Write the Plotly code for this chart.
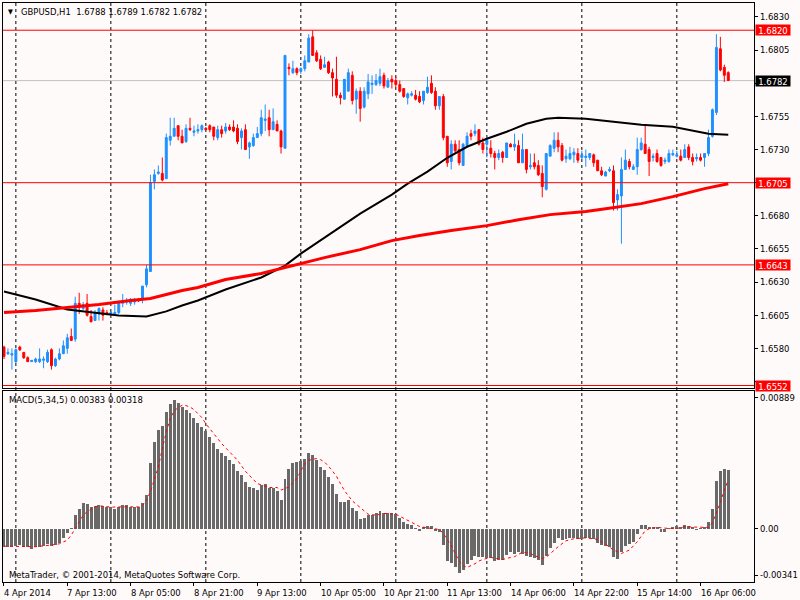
import plotly.graph_objects as go

BG = '#FFFAFA'
BULL = '#1E90FF'
BEAR = '#FF0000'
FONT = 'DejaVu Sans Condensed, DejaVu Sans, sans-serif'

# H1 bars, 4 Apr 21:00 .. 16 Apr 13:00 (bar index on the x axis)
opens = [
    1.6581, 1.6576, 1.6575, 1.6570, 1.6581, 1.6577, 1.6573, 1.6570, 1.6570, 1.6570,
    1.6571, 1.6570, 1.6579, 1.6567, 1.6572, 1.6576, 1.6580, 1.6589, 1.6587, 1.6614,
    1.6610, 1.6614, 1.6604, 1.6601, 1.6606, 1.6609, 1.6607, 1.6606, 1.6606, 1.6607,
    1.6614, 1.6615, 1.6614, 1.6615, 1.6617, 1.6617, 1.6628, 1.6638, 1.6706, 1.6712,
    1.6712, 1.6708, 1.6737, 1.6740, 1.6748, 1.6740, 1.6736, 1.6746, 1.6743, 1.6744,
    1.6745, 1.6746, 1.6748, 1.6747, 1.6739, 1.6745, 1.6744, 1.6747, 1.6747, 1.6746,
    1.6739, 1.6745, 1.6732, 1.6733, 1.6739, 1.6742, 1.6752, 1.6754, 1.6745, 1.6749,
    1.6744, 1.6731, 1.6792, 1.6788, 1.6791, 1.6789, 1.6791, 1.6796, 1.6815, 1.6803,
    1.6798, 1.6792, 1.6796, 1.6788, 1.6783, 1.6771, 1.6768, 1.6774, 1.6786, 1.6768,
    1.6774, 1.6762, 1.6772, 1.6779, 1.6779, 1.6780, 1.6786, 1.6777, 1.6783, 1.6782,
    1.6779, 1.6776, 1.6769, 1.6771, 1.6771, 1.6770, 1.6767, 1.6773, 1.6780, 1.6774,
    1.6763, 1.6770, 1.6740, 1.6721, 1.6734, 1.6730, 1.6718, 1.6733, 1.6742, 1.6742,
    1.6745, 1.6735, 1.6734, 1.6731, 1.6727, 1.6724, 1.6728, 1.6724, 1.6734, 1.6732,
    1.6733, 1.6720, 1.6730, 1.6717, 1.6720, 1.6718, 1.6712, 1.6700, 1.6725, 1.6731,
    1.6737, 1.6733, 1.6723, 1.6723, 1.6726, 1.6727, 1.6724, 1.6724, 1.6724, 1.6726,
    1.6722, 1.6714, 1.6710, 1.6714, 1.6714, 1.6692, 1.6695, 1.6715, 1.6721, 1.6715,
    1.6717, 1.6730, 1.6734, 1.6730, 1.6724, 1.6727, 1.6724, 1.6721, 1.6721, 1.6726,
    1.6725, 1.6725, 1.6724, 1.6732, 1.6724, 1.6723, 1.6724, 1.6724, 1.6727, 1.6740,
    1.6758, 1.6806, 1.6792, 1.6788,
]
highs = [
    1.6582, 1.6580, 1.6580, 1.6580, 1.6582, 1.6577, 1.6574, 1.6571, 1.6573, 1.6580,
    1.6574, 1.6579, 1.6580, 1.6573, 1.6580, 1.6586, 1.6591, 1.6595, 1.6619, 1.6622,
    1.6615, 1.6621, 1.6609, 1.6609, 1.6611, 1.6611, 1.6609, 1.6608, 1.6613, 1.6616,
    1.6621, 1.6618, 1.6618, 1.6618, 1.6618, 1.6627, 1.6643, 1.6711, 1.6715, 1.6718,
    1.6724, 1.6742, 1.6754, 1.6754, 1.6748, 1.6745, 1.6749, 1.6754, 1.6748, 1.6749,
    1.6749, 1.6747, 1.6749, 1.6747, 1.6748, 1.6748, 1.6750, 1.6749, 1.6752, 1.6749,
    1.6746, 1.6749, 1.6736, 1.6742, 1.6747, 1.6760, 1.6764, 1.6760, 1.6761, 1.6752,
    1.6745, 1.6801, 1.6795, 1.6797, 1.6792, 1.6792, 1.6801, 1.6817, 1.6820, 1.6805,
    1.6801, 1.6800, 1.6797, 1.6791, 1.6800, 1.6773, 1.6783, 1.6791, 1.6789, 1.6776,
    1.6777, 1.6777, 1.6787, 1.6786, 1.6787, 1.6791, 1.6788, 1.6784, 1.6786, 1.6785,
    1.6782, 1.6776, 1.6773, 1.6774, 1.6775, 1.6774, 1.6774, 1.6785, 1.6786, 1.6777,
    1.6770, 1.6772, 1.6740, 1.6737, 1.6737, 1.6737, 1.6735, 1.6743, 1.6745, 1.6749,
    1.6745, 1.6739, 1.6740, 1.6737, 1.6729, 1.6730, 1.6729, 1.6735, 1.6735, 1.6742,
    1.6737, 1.6742, 1.6730, 1.6727, 1.6727, 1.6722, 1.6718, 1.6727, 1.6734, 1.6743,
    1.6743, 1.6735, 1.6730, 1.6732, 1.6731, 1.6731, 1.6729, 1.6730, 1.6727, 1.6727,
    1.6722, 1.6717, 1.6714, 1.6717, 1.6718, 1.6700, 1.6724, 1.6730, 1.6723, 1.6719,
    1.6739, 1.6739, 1.6748, 1.6732, 1.6727, 1.6730, 1.6724, 1.6724, 1.6730, 1.6730,
    1.6729, 1.6730, 1.6734, 1.6734, 1.6727, 1.6727, 1.6727, 1.6727, 1.6745, 1.6761,
    1.6817, 1.6815, 1.6794, 1.6789,
]
lows = [
    1.6572, 1.6575, 1.6564, 1.6569, 1.6578, 1.6572, 1.6570, 1.6570, 1.6569, 1.6569,
    1.6565, 1.6569, 1.6564, 1.6566, 1.6571, 1.6576, 1.6576, 1.6586, 1.6585, 1.6606,
    1.6609, 1.6604, 1.6600, 1.6601, 1.6601, 1.6601, 1.6605, 1.6605, 1.6606, 1.6606,
    1.6611, 1.6613, 1.6612, 1.6613, 1.6615, 1.6614, 1.6626, 1.6638, 1.6700, 1.6711,
    1.6706, 1.6708, 1.6733, 1.6740, 1.6737, 1.6735, 1.6735, 1.6744, 1.6740, 1.6742,
    1.6743, 1.6745, 1.6743, 1.6737, 1.6737, 1.6739, 1.6742, 1.6744, 1.6743, 1.6734,
    1.6730, 1.6730, 1.6723, 1.6732, 1.6739, 1.6740, 1.6744, 1.6740, 1.6745, 1.6744,
    1.6727, 1.6731, 1.6786, 1.6787, 1.6786, 1.6787, 1.6789, 1.6796, 1.6801, 1.6796,
    1.6790, 1.6792, 1.6787, 1.6770, 1.6769, 1.6764, 1.6768, 1.6774, 1.6764, 1.6757,
    1.6751, 1.6761, 1.6768, 1.6772, 1.6778, 1.6778, 1.6776, 1.6777, 1.6776, 1.6777,
    1.6773, 1.6769, 1.6764, 1.6770, 1.6767, 1.6765, 1.6764, 1.6772, 1.6772, 1.6760,
    1.6760, 1.6737, 1.6717, 1.6715, 1.6727, 1.6718, 1.6718, 1.6732, 1.6737, 1.6740,
    1.6733, 1.6727, 1.6724, 1.6724, 1.6715, 1.6722, 1.6720, 1.6724, 1.6732, 1.6729,
    1.6720, 1.6720, 1.6712, 1.6715, 1.6715, 1.6710, 1.6694, 1.6699, 1.6725, 1.6728,
    1.6728, 1.6721, 1.6720, 1.6722, 1.6720, 1.6720, 1.6722, 1.6717, 1.6722, 1.6717,
    1.6714, 1.6710, 1.6710, 1.6713, 1.6684, 1.6684, 1.6659, 1.6715, 1.6715, 1.6715,
    1.6711, 1.6729, 1.6727, 1.6710, 1.6721, 1.6720, 1.6717, 1.6719, 1.6720, 1.6725,
    1.6724, 1.6721, 1.6724, 1.6722, 1.6718, 1.6721, 1.6721, 1.6717, 1.6725, 1.6739,
    1.6756, 1.6789, 1.6781, 1.6782,
]
closes = [
    1.6574, 1.6577, 1.6576, 1.6579, 1.6579, 1.6573, 1.6570, 1.6571, 1.6572, 1.6572,
    1.6572, 1.6577, 1.6567, 1.6572, 1.6576, 1.6582, 1.6588, 1.6586, 1.6614, 1.6611,
    1.6613, 1.6605, 1.6600, 1.6607, 1.6610, 1.6605, 1.6606, 1.6607, 1.6607, 1.6615,
    1.6616, 1.6616, 1.6617, 1.6617, 1.6616, 1.6627, 1.6640, 1.6705, 1.6711, 1.6713,
    1.6707, 1.6739, 1.6740, 1.6746, 1.6740, 1.6735, 1.6746, 1.6745, 1.6744, 1.6745,
    1.6748, 1.6745, 1.6745, 1.6740, 1.6745, 1.6742, 1.6747, 1.6745, 1.6744, 1.6736,
    1.6744, 1.6730, 1.6735, 1.6739, 1.6742, 1.6754, 1.6753, 1.6745, 1.6751, 1.6744,
    1.6732, 1.6801, 1.6791, 1.6791, 1.6788, 1.6791, 1.6797, 1.6814, 1.6801, 1.6797,
    1.6791, 1.6794, 1.6788, 1.6784, 1.6771, 1.6769, 1.6783, 1.6788, 1.6767, 1.6774,
    1.6761, 1.6774, 1.6781, 1.6780, 1.6782, 1.6785, 1.6778, 1.6782, 1.6781, 1.6779,
    1.6774, 1.6770, 1.6772, 1.6772, 1.6768, 1.6766, 1.6774, 1.6777, 1.6773, 1.6763,
    1.6770, 1.6739, 1.6720, 1.6734, 1.6729, 1.6720, 1.6734, 1.6740, 1.6740, 1.6744,
    1.6734, 1.6730, 1.6737, 1.6727, 1.6724, 1.6727, 1.6724, 1.6735, 1.6732, 1.6734,
    1.6720, 1.6730, 1.6715, 1.6718, 1.6717, 1.6711, 1.6702, 1.6727, 1.6733, 1.6737,
    1.6732, 1.6722, 1.6725, 1.6727, 1.6728, 1.6722, 1.6726, 1.6725, 1.6727, 1.6720,
    1.6714, 1.6711, 1.6713, 1.6715, 1.6690, 1.6696, 1.6715, 1.6722, 1.6717, 1.6717,
    1.6730, 1.6735, 1.6727, 1.6721, 1.6725, 1.6721, 1.6718, 1.6722, 1.6727, 1.6727,
    1.6726, 1.6722, 1.6730, 1.6724, 1.6721, 1.6724, 1.6722, 1.6727, 1.6739, 1.6760,
    1.6807, 1.6790, 1.6786, 1.6782,
]
bars = list(range(len(closes)))

# moving averages at these bar indices
ma_fast_idx = [0, 8, 16, 24, 29, 36, 41, 45, 49, 56, 65, 71, 75, 81, 90, 98, 102, 107, 112,
               117, 122, 127, 132, 137, 140, 147, 152, 161, 169, 174, 178, 183]
ma_fast = [1.66229, 1.66169, 1.66094, 1.66064, 1.66049, 1.66041, 1.66079, 1.66124, 1.66161,
           1.66244, 1.66335, 1.66425, 1.66515, 1.66636, 1.66817, 1.66960, 1.67043, 1.67133,
           1.67238, 1.67321, 1.67381, 1.67434, 1.67494, 1.67532, 1.67539, 1.67532, 1.67517,
           1.67487, 1.67472, 1.67442, 1.67419, 1.67411]
ma_slow_idx = [0, 8, 16, 24, 32, 37, 41, 45, 49, 56, 65, 73, 81, 90, 98, 105, 113, 122, 130,
               138, 147, 152, 161, 169, 177, 183]
ma_slow = [1.66071, 1.66086, 1.66108, 1.66131, 1.66161, 1.66176, 1.66206, 1.66236, 1.66259,
           1.66320, 1.66365, 1.66425, 1.66485, 1.66545, 1.66613, 1.66651, 1.66689, 1.66726,
           1.66771, 1.66809, 1.66832, 1.66854, 1.66892, 1.66945, 1.67005, 1.67042]

# MACD(5,34,5) main histogram, one value per bar
macd = [
    -0.00121, -0.00121, -0.00117, -0.00113, -0.00108, -0.00117, -0.00121, -0.00130, -0.00121, -0.00121,
    -0.00113, -0.00100, -0.00113, -0.00106, -0.00095, -0.00063, -0.00026, 0.00004, 0.00089, 0.00132,
    0.00165, 0.00161, 0.00143, 0.00148, 0.00154, 0.00148, 0.00139, 0.00139, 0.00130, 0.00139,
    0.00152, 0.00154, 0.00143, 0.00143, 0.00143, 0.00165, 0.00219, 0.00430, 0.00566, 0.00646,
    0.00668, 0.00759, 0.00816, 0.00837, 0.00820, 0.00794, 0.00777, 0.00755, 0.00725, 0.00690,
    0.00664, 0.00638, 0.00599, 0.00560, 0.00523, 0.00495, 0.00473, 0.00451, 0.00421, 0.00377,
    0.00349, 0.00306, 0.00273, 0.00265, 0.00255, 0.00284, 0.00291, 0.00269, 0.00267, 0.00247,
    0.00187, 0.00323, 0.00388, 0.00430, 0.00436, 0.00443, 0.00458, 0.00492, 0.00479, 0.00451,
    0.00403, 0.00382, 0.00338, 0.00291, 0.00226, 0.00174, 0.00174, 0.00187, 0.00137, 0.00115,
    0.00063, 0.00072, 0.00089, 0.00093, 0.00100, 0.00115, 0.00100, 0.00100, 0.00100, 0.00095,
    0.00072, 0.00043, 0.00030, 0.00024, 0.00007, -0.00013, 0.00013, 0.00017, 0.00017, -0.00013,
    -0.00020, -0.00106, -0.00208, -0.00226, -0.00252, -0.00291, -0.00269, -0.00230, -0.00204, -0.00178,
    -0.00182, -0.00187, -0.00193, -0.00193, -0.00208, -0.00204, -0.00202, -0.00171, -0.00150, -0.00165,
    -0.00154, -0.00165, -0.00178, -0.00182, -0.00193, -0.00204, -0.00236, -0.00178, -0.00128, -0.00091,
    -0.00063, -0.00074, -0.00069, -0.00063, -0.00063, -0.00069, -0.00069, -0.00063, -0.00063, -0.00069,
    -0.00095, -0.00106, -0.00113, -0.00117, -0.00182, -0.00200, -0.00150, -0.00113, -0.00100, -0.00085,
    -0.00035, 0.00022, 0.00024, 0.00013, 0.00013, 0.00009, -0.00020, -0.00020, 0.00007, 0.00013,
    0.00020, 0.00013, 0.00024, 0.00017, 0.00009, -0.00009, 0.00007, 0.00009, 0.00043, 0.00132,
    0.00312, 0.00375, 0.00393, 0.00383,
]
signal_idx = [0, 8, 12, 14, 16, 17, 18, 19, 20, 21, 23, 24, 27, 30, 34, 35, 36, 37, 38, 39,
              40, 41, 42, 43, 44, 45, 46, 47, 48, 49, 50, 51, 53, 55, 57, 59, 61, 63, 64, 67,
              69, 70, 72, 74, 75, 76, 77, 79, 80, 81, 82, 84, 85, 86, 88, 90, 92, 94, 96, 99,
              101, 103, 105, 108, 110, 111, 112, 113, 114, 115, 116, 117, 118, 119, 120, 121, 123, 125,
              126, 128, 129, 131, 133, 134, 136, 137, 138, 140, 142, 144, 147, 150, 152, 154, 156, 158,
              160, 161, 162, 163, 165, 168, 170, 172, 176, 178, 179, 180, 181, 182, 183]
signal = [-0.00113, -0.00117, -0.00106, -0.00098, -0.00074, -0.00041, 0.00002, 0.00046, 0.00089, 0.00111,
          0.00143, 0.00150, 0.00141, 0.00143, 0.00143, 0.00150, 0.00187, 0.00241, 0.00328, 0.00403,
          0.00523, 0.00631, 0.00718, 0.00768, 0.00790, 0.00805, 0.00803, 0.00794, 0.00777, 0.00751,
          0.00725, 0.00685, 0.00620, 0.00555, 0.00501, 0.00447, 0.00375, 0.00317, 0.00295, 0.00269,
          0.00269, 0.00252, 0.00273, 0.00328, 0.00380, 0.00425, 0.00447, 0.00458, 0.00450, 0.00435,
          0.00408, 0.00343, 0.00295, 0.00250, 0.00182, 0.00138, 0.00095, 0.00089, 0.00100, 0.00095,
          0.00067, 0.00039, 0.00015, 0.00002, -0.00004, -0.00030, -0.00069, -0.00110, -0.00161, -0.00210,
          -0.00240, -0.00252, -0.00240, -0.00228, -0.00210, -0.00200, -0.00187, -0.00193, -0.00200, -0.00187,
          -0.00182, -0.00152, -0.00161, -0.00175, -0.00193, -0.00185, -0.00161, -0.00117, -0.00078, -0.00065,
          -0.00059, -0.00069, -0.00100, -0.00139, -0.00161, -0.00139, -0.00085, -0.00050, -0.00013, 0.00000,
          0.00009, 0.00002, 0.00002, 0.00013, 0.00009, 0.00009, 0.00040, 0.00100, 0.00170, 0.00252, 0.00318]

# price levels drawn across the main pane
levels = [1.6820, 1.6705, 1.6643, 1.6552]
bid = 1.6782

# price scale ticks; the ones hidden under level labels keep only their tick mark
price_ticks = [1.6830, 1.6805, 1.6780, 1.6755, 1.6730, 1.6705, 1.6680, 1.6655, 1.6630, 1.6605, 1.6580, 1.6555]
price_text = ['1.6830', '1.6805', '', '1.6755', '1.6730', '', '1.6680', '1.6655', '1.6630', '1.6605', '1.6580', '']

# day separators (first bar of each day) and time labels every 16 bars
day_starts = [3, 27, 51, 75, 99, 122, 146, 170]
tick_idx = [0, 16, 32, 48, 64, 80, 96, 112, 128, 144, 160, 176]
tick_text = ['4 Apr 2014', '7 Apr 13:00', '8 Apr 05:00', '8 Apr 21:00', '9 Apr 13:00',
             '10 Apr 05:00', '10 Apr 21:00', '11 Apr 13:00', '14 Apr 06:00', '14 Apr 22:00',
             '15 Apr 14:00', '16 Apr 06:00']

fig = go.Figure()

fig.add_trace(go.Candlestick(
    x=bars, open=opens, high=highs, low=lows, close=closes,
    increasing=dict(line=dict(color=BULL, width=1), fillcolor=BULL),
    decreasing=dict(line=dict(color=BEAR, width=1), fillcolor=BEAR),
    whiskerwidth=0, hoverinfo='skip', xaxis='x', yaxis='y'))
fig.add_trace(go.Scatter(x=ma_fast_idx, y=ma_fast, mode='lines',
                         line=dict(color='black', width=2), hoverinfo='skip', xaxis='x', yaxis='y'))
fig.add_trace(go.Scatter(x=ma_slow_idx, y=ma_slow, mode='lines',
                         line=dict(color=BEAR, width=3), hoverinfo='skip', xaxis='x', yaxis='y'))

fig.add_trace(go.Bar(x=bars, y=macd, width=0.75, marker=dict(color='#696969', line=dict(width=0)),
                     hoverinfo='skip', xaxis='x2', yaxis='y2'))
fig.add_trace(go.Scatter(x=signal_idx, y=signal, mode='lines',
                         line=dict(color=BEAR, width=1, dash='dot'), hoverinfo='skip', xaxis='x2', yaxis='y2'))

for d in day_starts:
    fig.add_shape(type='line', xref='x', yref='paper', x0=d, x1=d, y0=0, y1=1, layer='below',
                  line=dict(color='black', width=1, dash='3px,3px'))
for lv in levels:
    fig.add_shape(type='line', xref='paper', yref='y', x0=0, x1=1, y0=lv, y1=lv,
                  line=dict(color=BEAR, width=1))
fig.add_shape(type='line', xref='paper', yref='y', x0=0, x1=1, y0=bid, y1=bid,
              line=dict(color='#C0C0C0', width=1), layer='below')

axis_common = dict(showgrid=False, zeroline=False, showline=True, mirror=True,
                   linecolor='black', linewidth=1, tickcolor='black')

fig.update_layout(
    width=800, height=600,
    margin=dict(l=2, r=39, t=2, b=18),
    paper_bgcolor=BG, plot_bgcolor=BG,
    showlegend=False, bargap=0,
    font=dict(family=FONT, size=9.4, color='black'),
    xaxis=dict(domain=[0, 1], range=[-0.25, 189.5], anchor='y', showticklabels=False, ticks='',
               rangeslider=dict(visible=False), **axis_common),
    yaxis=dict(domain=[0.3345, 1], range=[1.654988, 1.684054], anchor='x', side='right',
               tickvals=price_ticks, ticktext=price_text, ticks='outside', ticklen=3,
               **axis_common),
    xaxis2=dict(domain=[0, 1], matches='x', anchor='y2', tickvals=tick_idx, showticklabels=False,
                ticks='outside', ticklen=3, **axis_common),
    yaxis2=dict(domain=[0, 0.3293], range=[-0.003469, 0.008961], anchor='x2', side='right',
                tickvals=[0.00856, 0, -0.00302], ticktext=['0.00889', '0.00', '-0.00341'],
                ticks='outside', ticklen=3, **axis_common),
)

for i, t in zip(tick_idx, tick_text):
    fig.add_annotation(x=i, y=0, xref='x2', yref='paper', text=t, showarrow=False,
                       xanchor='left', yanchor='top', xshift=-2, yshift=-3)

for lv in levels:
    fig.add_annotation(x=1, y=lv, xref='paper', yref='y', text=f'{lv:.4f}', showarrow=False,
                       xanchor='left', yanchor='middle', xshift=1, bgcolor=BEAR,
                       font=dict(color='white'), width=34, height=10, borderpad=0)
fig.add_annotation(x=1, y=bid, xref='paper', yref='y', text=f'{bid:.4f}', showarrow=False,
                   xanchor='left', yanchor='middle', xshift=1, bgcolor='black',
                   font=dict(color='white'), width=34, height=10, borderpad=0)

fig.add_annotation(x=0.0105, y=0.9853, xref='paper', yref='paper', text='▼', showarrow=False,
                   xanchor='center', yanchor='middle', font=dict(size=7))
fig.add_annotation(x=0.021, y=0.9853, xref='paper', yref='paper', xanchor='left', yanchor='middle',
                   text='GBPUSD,H1  1.6788 1.6789 1.6782 1.6782', showarrow=False)
fig.add_annotation(x=0.0053, y=0.3155, xref='paper', yref='paper', xanchor='left', yanchor='middle',
                   text='MACD(5,34,5) 0.00383 0.00318', showarrow=False)
fig.add_annotation(x=0.0053, y=0.0138, xref='paper', yref='paper', xanchor='left', yanchor='middle',
                   text='MetaTrader, © 2001-2014, MetaQuotes Software Corp.', showarrow=False)

# the page body has a default margin; drop it so the figure sits at the window corner
fig.write_html('out.html', config={'displayModeBar': False, 'staticPlot': True},
               post_script="document.body.style.margin='0';")
